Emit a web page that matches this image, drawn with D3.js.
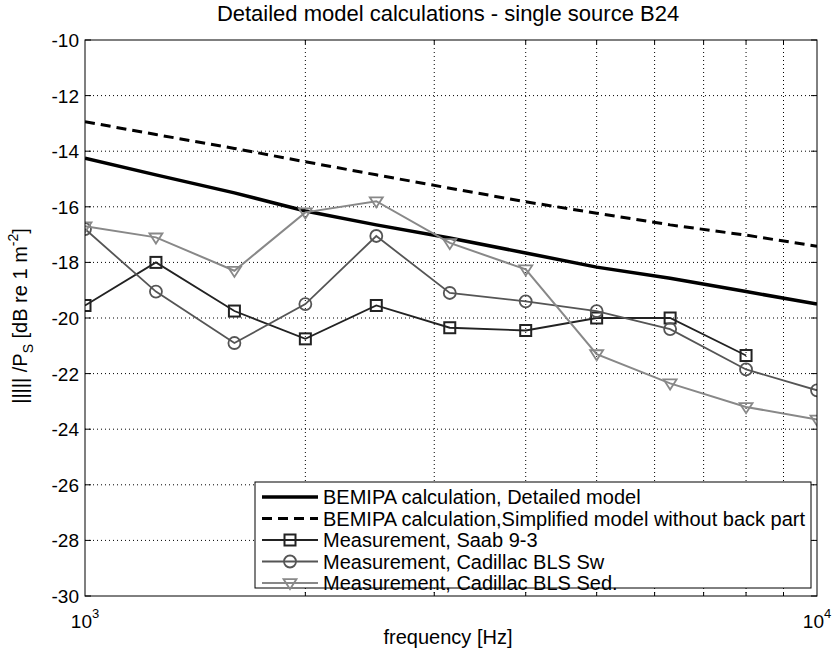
<!DOCTYPE html>
<html>
<head>
<meta charset="utf-8">
<script src="https://cdn.jsdelivr.net/npm/d3@7"></script>
<style>
  body { margin: 0; background: #fff; }
  text { font-family: "Liberation Sans", Arial, sans-serif; fill: #000; }
</style>
</head>
<body>
<svg id="chart"></svg>
<script>
// frequencies (1/3 octave bands)
const freqs = [1000, 1250, 1600, 2000, 2500, 3150, 4000, 5000, 6300, 8000, 10000];

const detailed   = [-14.25, -14.85, -15.5, -16.15, -16.65, -17.12, -17.66, -18.17, -18.57, -19.05, -19.5];
const simplified = [-12.94, -13.4, -13.9, -14.38, -14.85, -15.33, -15.82, -16.23, -16.65, -17.02, -17.42];
const saab       = [-19.55, -18.0, -19.75, -20.75, -19.55, -20.35, -20.45, -20.0, -20.0, -21.35, null];
const cadSw      = [-16.8, -19.05, -20.9, -19.5, -17.05, -19.1, -19.4, -19.75, -20.4, -21.85, -22.6];
const cadSed     = [-16.7, -17.1, -18.3, -16.2, -15.8, -17.3, -18.25, -21.3, -22.35, -23.2, -23.65];

const yTicks = [-30, -28, -26, -24, -22, -20, -18, -16, -14, -12, -10];
const xGrid = [2000, 3000, 4000, 5000, 6000, 7000, 8000, 9000];

const seriesList = [
  {name: 'BEMIPA calculation, Detailed model', values: detailed, color: '#000', width: 3.5, dash: null, marker: null},
  {name: 'BEMIPA calculation,Simplified model without back part', values: simplified, color: '#000', width: 3, dash: '10,6', marker: null},
  {name: 'Measurement, Saab 9-3', values: saab, color: '#222', width: 1.8, dash: null, marker: 'square'},
  {name: 'Measurement, Cadillac BLS Sw', values: cadSw, color: '#555', width: 1.8, dash: null, marker: 'circle'},
  {name: 'Measurement, Cadillac BLS Sed.', values: cadSed, color: '#888', width: 2, dash: null, marker: 'triangle'}
];

const width = 832, height = 664;
const margin = {left: 85, right: 15, top: 40, bottom: 68};
const innerW = width - margin.left - margin.right;
const innerH = height - margin.top - margin.bottom;

const svg = d3.select('#chart').attr('width', width).attr('height', height);
const g = svg.append('g').attr('transform', `translate(${margin.left},${margin.top})`);

const x = d3.scaleLog().domain([1000, 10000]).range([0, innerW]);
const y = d3.scaleLinear().domain([-30, -10]).range([innerH, 0]);

// grid
g.selectAll('.grid-y').data(yTicks.slice(1, -1)).enter().append('line')
    .attr('x1', 0).attr('x2', innerW)
    .attr('y1', d => y(d)).attr('y2', d => y(d))
    .attr('stroke', '#000').attr('stroke-width', 1).attr('stroke-dasharray', '1,3');
g.selectAll('.grid-x').data(xGrid).enter().append('line')
    .attr('x1', d => x(d)).attr('x2', d => x(d))
    .attr('y1', 0).attr('y2', innerH)
    .attr('stroke', '#000').attr('stroke-width', 1).attr('stroke-dasharray', '1,3');

// ticks (inside, on all sides)
const tickLen = 6;
yTicks.forEach(v => {
  g.append('line').attr('x1', 0).attr('x2', tickLen).attr('y1', y(v)).attr('y2', y(v)).attr('stroke', '#000');
  g.append('line').attr('x1', innerW - tickLen).attr('x2', innerW).attr('y1', y(v)).attr('y2', y(v)).attr('stroke', '#000');
  g.append('text').attr('x', -6).attr('y', y(v) + 7).attr('text-anchor', 'end')
      .style('font-size', '19px').text(v);
});
xGrid.forEach(v => {
  g.append('line').attr('x1', x(v)).attr('x2', x(v)).attr('y1', innerH).attr('y2', innerH - 4).attr('stroke', '#000');
  g.append('line').attr('x1', x(v)).attr('x2', x(v)).attr('y1', 0).attr('y2', 4).attr('stroke', '#000');
});
[1000, 10000].forEach((v, i) => {
  const t = g.append('text').attr('x', x(v)).attr('y', innerH + 32).attr('text-anchor', 'middle')
      .style('font-size', '19px');
  t.append('tspan').text('10');
  t.append('tspan').attr('dy', -10).style('font-size', '13px').text(i === 0 ? '3' : '4');
});

// clip for data
svg.append('defs').append('clipPath').attr('id', 'plot-clip')
    .append('rect').attr('width', innerW).attr('height', innerH);
const plot = g.append('g').attr('clip-path', 'url(#plot-clip)');

const line = d3.line()
    .defined(d => d.v !== null)
    .x(d => x(d.f))
    .y(d => y(d.v));

function drawMarker(sel, type, color, cx, cy) {
  if (type === 'square') {
    sel.append('rect').attr('x', cx - 5.5).attr('y', cy - 5.5).attr('width', 11).attr('height', 11)
        .attr('fill', 'none').attr('stroke', color).attr('stroke-width', 2);
  } else if (type === 'circle') {
    sel.append('circle').attr('cx', cx).attr('cy', cy).attr('r', 6)
        .attr('fill', 'none').attr('stroke', color).attr('stroke-width', 1.8);
  } else if (type === 'triangle') {
    const s = 6.5;
    sel.append('path').attr('d', `M${cx - s},${cy - s * 0.6}L${cx + s},${cy - s * 0.6}L${cx},${cy + s * 0.95}Z`)
        .attr('fill', 'none').attr('stroke', color).attr('stroke-width', 1.8);
  }
}

seriesList.forEach(s => {
  const pts = freqs.map((f, i) => ({f: f, v: s.values[i]}));
  plot.append('path').datum(pts)
      .attr('fill', 'none')
      .attr('stroke', s.color)
      .attr('stroke-width', s.width)
      .attr('stroke-dasharray', s.dash)
      .attr('d', line);
  if (s.marker) {
    pts.filter(d => d.v !== null).forEach(d => drawMarker(plot, s.marker, s.color, x(d.f), y(d.v)));
  }
});

// axes box
g.append('rect').attr('width', innerW).attr('height', innerH)
    .attr('fill', 'none').attr('stroke', '#000').attr('stroke-width', 1);

// legend
const legX = 255 - margin.left, legY = 482 - margin.top;
const legend = g.append('g').attr('transform', `translate(${legX},${legY})`);
legend.append('rect').attr('width', 556).attr('height', 106)
    .attr('fill', '#fff').attr('stroke', '#000').attr('stroke-width', 1);
seriesList.forEach((s, i) => {
  const ly = 15 + i * 21.5;
  legend.append('line').attr('x1', 7).attr('x2', 63).attr('y1', ly).attr('y2', ly)
      .attr('stroke', s.color).attr('stroke-width', s.width).attr('stroke-dasharray', s.dash);
  if (s.marker) drawMarker(legend, s.marker, s.color, 35, ly);
  legend.append('text').attr('x', 68).attr('y', ly + 7).style('font-size', '20px').text(s.name);
});

// title and axis labels
svg.append('text').attr('x', 448).attr('y', 21).attr('text-anchor', 'middle')
    .style('font-size', '22px').text('Detailed model calculations - single source B24');
svg.append('text').attr('x', 448).attr('y', 644).attr('text-anchor', 'middle')
    .style('font-size', '20px').text('frequency [Hz]');

const yl = svg.append('text').attr('transform', 'translate(27,316) rotate(-90)')
    .attr('text-anchor', 'middle').style('font-size', '20px');
yl.append('tspan').text('||||| /P');
yl.append('tspan').attr('dy', 6).style('font-size', '14px').text('S');
yl.append('tspan').attr('dy', -6).text(' [dB re 1 m');
yl.append('tspan').attr('dy', -9).style('font-size', '14px').text('-2');
yl.append('tspan').attr('dy', 9).text(']');
</script>
</body>
</html>
